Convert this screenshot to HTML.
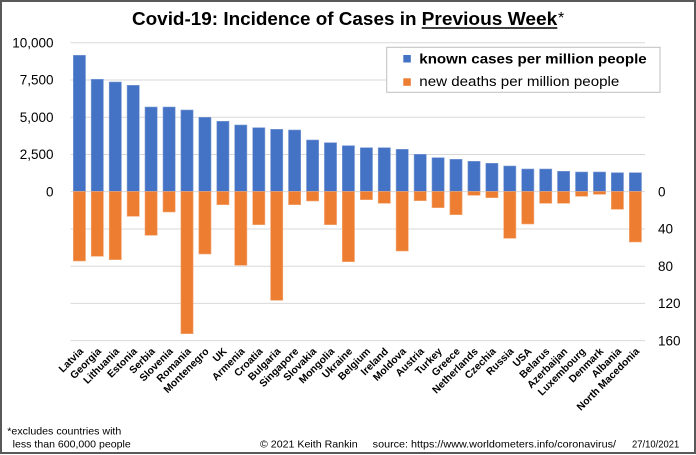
<!DOCTYPE html>
<html>
<head>
<meta charset="utf-8">
<style>
  html,body{margin:0;padding:0;background:#fff;}
  svg{display:block;}
  text{font-family:"Liberation Sans", Arial, sans-serif;fill:#000;}
</style>
</head>
<body>
<svg width="696" height="455" viewBox="0 0 696 455" xmlns="http://www.w3.org/2000/svg">
  <rect x="0" y="0" width="696" height="455" fill="#fff"/>
  <rect x="1" y="1" width="694" height="452" fill="none" stroke="#595959" stroke-width="2"/>

  <!-- title -->
  <text x="132" y="25" font-size="18.5" font-weight="bold" textLength="284.5" lengthAdjust="spacingAndGlyphs">Covid-19: Incidence of Cases in</text>
  <text x="421.7" y="25" font-size="18.5" font-weight="bold" textLength="135.6" lengthAdjust="spacingAndGlyphs">Previous Week</text>
  <line x1="421.7" y1="28" x2="557.3" y2="28" stroke="#000" stroke-width="1.5"/>
  <text x="558" y="23.2" font-size="16">*</text>

  <!-- gridlines -->
  <g stroke="#d9d9d9" stroke-width="1">
    <line x1="70.5" y1="42.7" x2="645" y2="42.7"/>
    <line x1="70.5" y1="80" x2="645" y2="80"/>
    <line x1="70.5" y1="117.3" x2="645" y2="117.3"/>
    <line x1="70.5" y1="154.5" x2="645" y2="154.5"/>
    <line x1="70.5" y1="191.6" x2="645" y2="191.6"/>
    <line x1="70.5" y1="229" x2="645" y2="229"/>
    <line x1="70.5" y1="266.2" x2="645" y2="266.2"/>
    <line x1="70.5" y1="303.4" x2="645" y2="303.4"/>
    <line x1="70.5" y1="340.6" x2="645" y2="340.6"/>
  </g>

  <!-- left axis labels -->
  <g font-size="13.5" text-anchor="end">
    <text x="53.5" y="47.4">10,000</text>
    <text x="53.5" y="84.7">7,500</text>
    <text x="53.5" y="122">5,000</text>
    <text x="53.5" y="159.2">2,500</text>
    <text x="53.5" y="196.4">0</text>
  </g>
  <!-- right axis labels -->
  <g font-size="13.5">
    <text x="658" y="196.4">0</text>
    <text x="658" y="233.7">40</text>
    <text x="658" y="270.9">80</text>
    <text x="658" y="308.1">120</text>
    <text x="658" y="345.3">160</text>
  </g>

  <!-- blue bars -->
  <g fill="#4472c4" stroke="#7f9fd8" stroke-width="0.6">
    <rect x="73.3" y="55.3" width="12.2" height="136.2"/>
    <rect x="91.2" y="79.3" width="12.2" height="112.2"/>
    <rect x="109.2" y="82" width="12.2" height="109.5"/>
    <rect x="127.1" y="85.3" width="12.2" height="106.2"/>
    <rect x="145.0" y="107" width="12.2" height="84.5"/>
    <rect x="163.0" y="107" width="12.2" height="84.5"/>
    <rect x="180.9" y="110" width="12.2" height="81.5"/>
    <rect x="198.8" y="117.3" width="12.2" height="74.2"/>
    <rect x="216.8" y="121.3" width="12.2" height="70.2"/>
    <rect x="234.7" y="125" width="12.2" height="66.5"/>
    <rect x="252.7" y="127.7" width="12.2" height="63.8"/>
    <rect x="270.6" y="129.3" width="12.2" height="62.2"/>
    <rect x="288.5" y="130" width="12.2" height="61.5"/>
    <rect x="306.5" y="140" width="12.2" height="51.5"/>
    <rect x="324.4" y="142.7" width="12.2" height="48.8"/>
    <rect x="342.3" y="145.7" width="12.2" height="45.8"/>
    <rect x="360.3" y="147.7" width="12.2" height="43.8"/>
    <rect x="378.2" y="147.7" width="12.2" height="43.8"/>
    <rect x="396.1" y="149.3" width="12.2" height="42.2"/>
    <rect x="414.1" y="154.3" width="12.2" height="37.2"/>
    <rect x="432.0" y="157.7" width="12.2" height="33.8"/>
    <rect x="449.9" y="159.3" width="12.2" height="32.2"/>
    <rect x="467.9" y="161.3" width="12.2" height="30.2"/>
    <rect x="485.8" y="163.3" width="12.2" height="28.2"/>
    <rect x="503.7" y="166" width="12.2" height="25.5"/>
    <rect x="521.7" y="169" width="12.2" height="22.5"/>
    <rect x="539.6" y="169" width="12.2" height="22.5"/>
    <rect x="557.5" y="171.3" width="12.2" height="20.2"/>
    <rect x="575.5" y="172" width="12.2" height="19.5"/>
    <rect x="593.4" y="172" width="12.2" height="19.5"/>
    <rect x="611.3" y="172.7" width="12.2" height="18.8"/>
    <rect x="629.3" y="172.7" width="12.2" height="18.8"/>
  </g>

  <!-- orange bars -->
  <g fill="#ed7d31" stroke="#f4a978" stroke-width="0.6">
    <rect x="73.3" y="191.5" width="12.2" height="69.5"/>
    <rect x="91.2" y="191.5" width="12.2" height="64.8"/>
    <rect x="109.2" y="191.5" width="12.2" height="68.2"/>
    <rect x="127.1" y="191.5" width="12.2" height="24.8"/>
    <rect x="145.0" y="191.5" width="12.2" height="43.8"/>
    <rect x="163.0" y="191.5" width="12.2" height="20.5"/>
    <rect x="180.9" y="191.5" width="12.2" height="142.2"/>
    <rect x="198.8" y="191.5" width="12.2" height="62.5"/>
    <rect x="216.8" y="191.5" width="12.2" height="13.2"/>
    <rect x="234.7" y="191.5" width="12.2" height="73.8"/>
    <rect x="252.7" y="191.5" width="12.2" height="33.2"/>
    <rect x="270.6" y="191.5" width="12.2" height="108.8"/>
    <rect x="288.5" y="191.5" width="12.2" height="13.2"/>
    <rect x="306.5" y="191.5" width="12.2" height="9.5"/>
    <rect x="324.4" y="191.5" width="12.2" height="33.2"/>
    <rect x="342.3" y="191.5" width="12.2" height="70.2"/>
    <rect x="360.3" y="191.5" width="12.2" height="8.2"/>
    <rect x="378.2" y="191.5" width="12.2" height="11.8"/>
    <rect x="396.1" y="191.5" width="12.2" height="59.5"/>
    <rect x="414.1" y="191.5" width="12.2" height="9.2"/>
    <rect x="432.0" y="191.5" width="12.2" height="16.2"/>
    <rect x="449.9" y="191.5" width="12.2" height="23.2"/>
    <rect x="467.9" y="191.5" width="12.2" height="3.8"/>
    <rect x="485.8" y="191.5" width="12.2" height="6.2"/>
    <rect x="503.7" y="191.5" width="12.2" height="46.8"/>
    <rect x="521.7" y="191.5" width="12.2" height="32.5"/>
    <rect x="539.6" y="191.5" width="12.2" height="11.8"/>
    <rect x="557.5" y="191.5" width="12.2" height="11.8"/>
    <rect x="575.5" y="191.5" width="12.2" height="4.8"/>
    <rect x="593.4" y="191.5" width="12.2" height="2.8"/>
    <rect x="611.3" y="191.5" width="12.2" height="17.8"/>
    <rect x="629.3" y="191.5" width="12.2" height="50.5"/>
  </g>

  <!-- legend -->
  <rect x="386.7" y="47.3" width="273.3" height="45" fill="#fff" stroke="#bfbfbf" stroke-width="1"/>
  <rect x="403.3" y="55" width="7.5" height="7.5" fill="#4472c4"/>
  <text x="419.3" y="63.3" font-size="13.5" font-weight="bold" textLength="227.4" lengthAdjust="spacingAndGlyphs">known cases per million people</text>
  <rect x="403.3" y="78.3" width="7.5" height="7.5" fill="#ed7d31"/>
  <text x="419.3" y="86" font-size="13.5" textLength="200" lengthAdjust="spacingAndGlyphs">new deaths per million people</text>

  <!-- x labels -->
  <g font-size="10.3" font-weight="bold" text-anchor="end">
    <text transform="translate(83.9,352) rotate(-45)">Latvia</text>
    <text transform="translate(101.8,352) rotate(-45)">Georgia</text>
    <text transform="translate(119.8,352) rotate(-45)">Lithuania</text>
    <text transform="translate(137.7,352) rotate(-45)">Estonia</text>
    <text transform="translate(155.6,352) rotate(-45)">Serbia</text>
    <text transform="translate(173.6,352) rotate(-45)">Slovenia</text>
    <text transform="translate(191.5,352) rotate(-45)">Romania</text>
    <text transform="translate(209.4,352) rotate(-45)">Montenegro</text>
    <text transform="translate(227.4,352) rotate(-45)">UK</text>
    <text transform="translate(245.3,352) rotate(-45)">Armenia</text>
    <text transform="translate(263.3,352) rotate(-45)">Croatia</text>
    <text transform="translate(281.2,352) rotate(-45)">Bulgaria</text>
    <text transform="translate(299.1,352) rotate(-45)">Singapore</text>
    <text transform="translate(317.1,352) rotate(-45)">Slovakia</text>
    <text transform="translate(335.0,352) rotate(-45)">Mongolia</text>
    <text transform="translate(352.9,352) rotate(-45)">Ukraine</text>
    <text transform="translate(370.9,352) rotate(-45)">Belgium</text>
    <text transform="translate(388.8,352) rotate(-45)">Ireland</text>
    <text transform="translate(406.7,352) rotate(-45)">Moldova</text>
    <text transform="translate(424.7,352) rotate(-45)">Austria</text>
    <text transform="translate(442.6,352) rotate(-45)">Turkey</text>
    <text transform="translate(460.5,352) rotate(-45)">Greece</text>
    <text transform="translate(478.5,352) rotate(-45)">Netherlands</text>
    <text transform="translate(496.4,352) rotate(-45)">Czechia</text>
    <text transform="translate(514.3,352) rotate(-45)">Russia</text>
    <text transform="translate(532.3,352) rotate(-45)">USA</text>
    <text transform="translate(550.2,352) rotate(-45)">Belarus</text>
    <text transform="translate(568.1,352) rotate(-45)">Azerbaijan</text>
    <text transform="translate(586.1,352) rotate(-45)">Luxembourg</text>
    <text transform="translate(604.0,352) rotate(-45)">Denmark</text>
    <text transform="translate(621.9,352) rotate(-45)">Albania</text>
    <text transform="translate(639.9,352) rotate(-45)">North Macedonia</text>
  </g>

  <!-- footer -->
  <g font-size="10.3">
    <text x="7.3" y="434.3" textLength="114" lengthAdjust="spacingAndGlyphs">*excludes countries with</text>
    <text x="12.7" y="447.3" textLength="118" lengthAdjust="spacingAndGlyphs">less than 600,000 people</text>
    <text x="260" y="447.3" textLength="97.7" lengthAdjust="spacingAndGlyphs">© 2021  Keith Rankin</text>
    <text x="372.7" y="447.3" textLength="243.3" lengthAdjust="spacingAndGlyphs">source: https://www.worldometers.info/coronavirus/</text>
    <text x="632" y="447.3" textLength="47.3" lengthAdjust="spacingAndGlyphs">27/10/2021</text>
  </g>
</svg>
</body>
</html>
